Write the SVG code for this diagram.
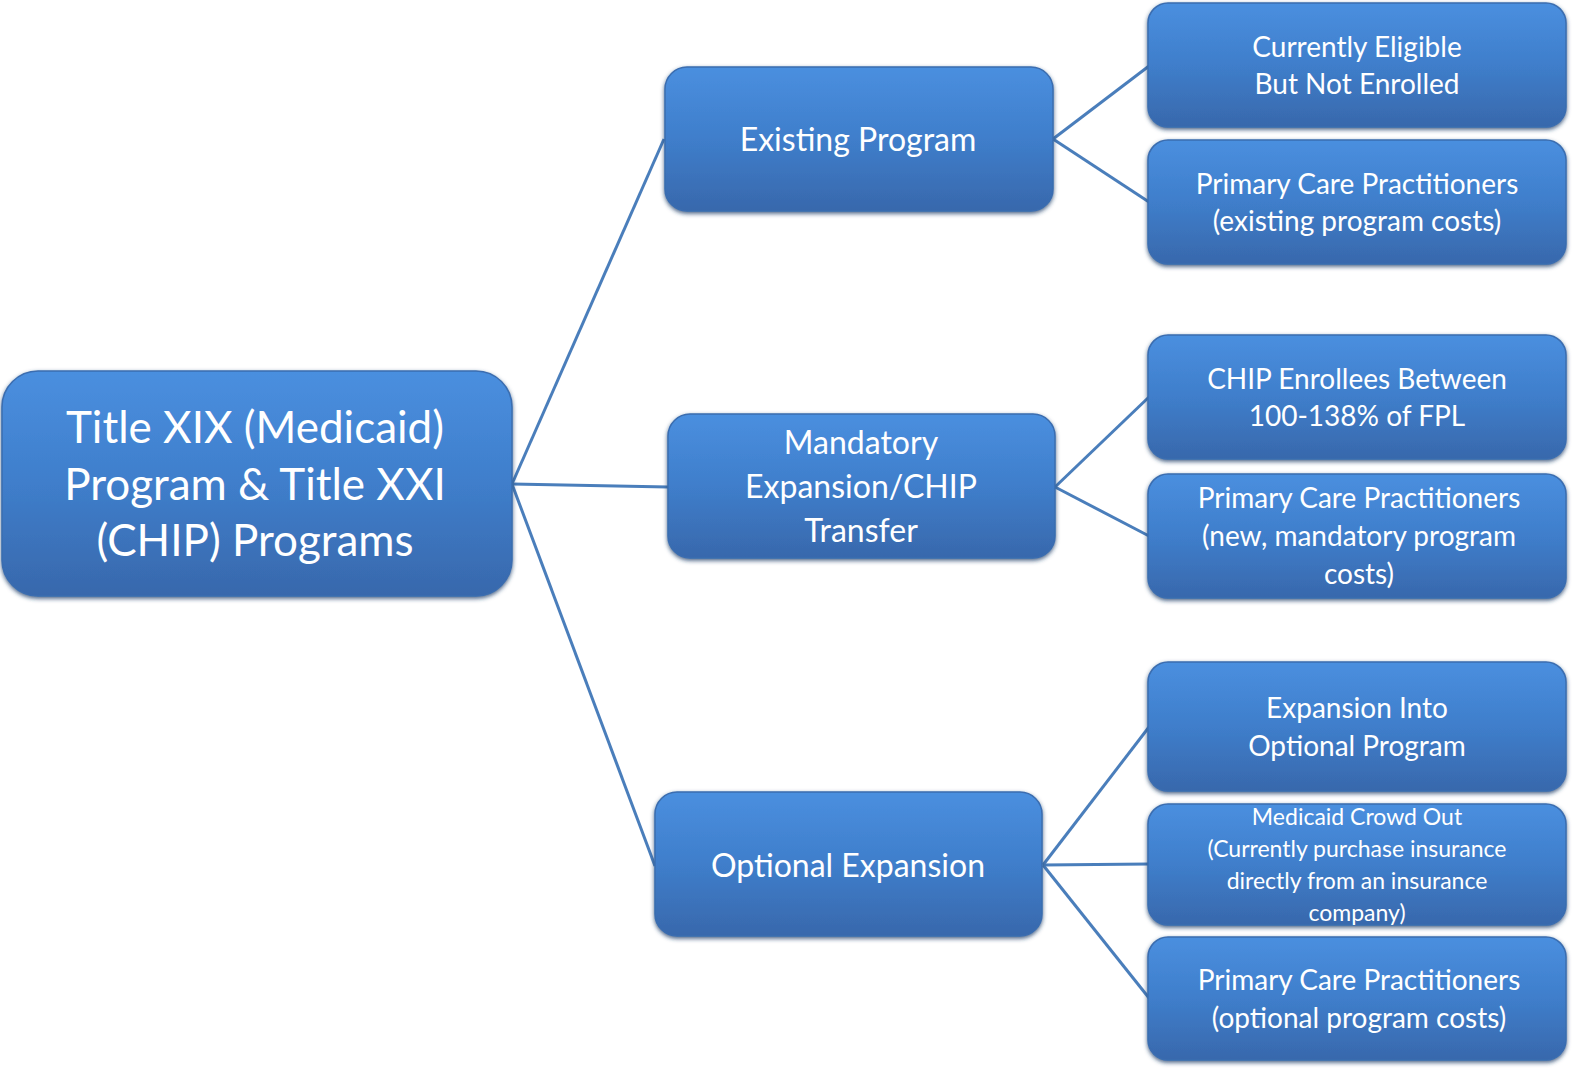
<svg xmlns="http://www.w3.org/2000/svg" width="1585" height="1075" viewBox="0 0 1585 1075">
<defs>
<linearGradient id="g" x1="0" y1="0" x2="0" y2="1">
<stop offset="0" stop-color="#4a8fdf"/>
<stop offset="0.5" stop-color="#3f7ecb"/>
<stop offset="1" stop-color="#3868ac"/>
</linearGradient>
<filter id="sh" x="-5%" y="-5%" width="110%" height="115%">
<feGaussianBlur in="SourceAlpha" stdDeviation="2"/>
<feOffset dx="0" dy="2" result="b"/>
<feFlood flood-color="#1f3f6a" flood-opacity="0.8"/>
<feComposite in2="b" operator="in"/>
<feMerge><feMergeNode/><feMergeNode in="SourceGraphic"/></feMerge>
</filter>
</defs>
<style>
.box{fill:url(#g);stroke:#3a6db0;stroke-width:1.5;filter:url(#sh)}
.t{font-family:Lato,"Open Sans","Liberation Sans",sans-serif;fill:#ffffff;text-anchor:middle}
.conn line{stroke:#4a7ebb;stroke-width:3}
</style>
<rect width="1585" height="1075" fill="#ffffff"/>
<g class="conn" id="connectors">
<line x1="512" y1="484" x2="664" y2="139"/>
<line x1="512" y1="484" x2="668" y2="487"/>
<line x1="512" y1="484" x2="655" y2="866"/>
<line x1="1053" y1="139" x2="1149" y2="66"/>
<line x1="1053" y1="139" x2="1149" y2="202"/>
<line x1="1055" y1="487" x2="1149" y2="397"/>
<line x1="1055" y1="487" x2="1149" y2="536"/>
<line x1="1043" y1="865" x2="1149" y2="727"/>
<line x1="1043" y1="865" x2="1149" y2="864"/>
<line x1="1043" y1="865" x2="1149" y2="998"/>
</g>
<g id="root">
<rect class="box" x="2" y="371" width="510" height="225" rx="36"/>
<text class="t" font-size="44" x="255" y="443">Title XIX (Medicaid)</text>
<text class="t" font-size="44" x="255" y="500">Program &amp; Title XXI</text>
<text class="t" font-size="44" x="255" y="556">(CHIP) Programs</text>
</g>
<g id="existing">
<rect class="box" x="665" y="67" width="388" height="144" rx="22"/>
<text class="t" font-size="32" x="858" y="151">Existing Program</text>
</g>
<g id="mandatory">
<rect class="box" x="668" y="414" width="387" height="144" rx="22"/>
<text class="t" font-size="32" x="861" y="454">Mandatory</text>
<text class="t" font-size="32" x="861" y="498">Expansion/CHIP</text>
<text class="t" font-size="32" x="861" y="542">Transfer</text>
</g>
<g id="optional">
<rect class="box" x="655" y="792" width="387" height="144" rx="22"/>
<text class="t" font-size="32" x="848" y="877">Optional Expansion</text>
</g>
<g id="eligible">
<rect class="box" x="1148" y="3" width="418" height="124" rx="20"/>
<text class="t" font-size="28" x="1357" y="57">Currently Eligible</text>
<text class="t" font-size="28" x="1357" y="94">But Not Enrolled</text>
</g>
<g id="pcp-existing">
<rect class="box" x="1148" y="140" width="418" height="124" rx="20"/>
<text class="t" font-size="28" x="1357" y="194">Primary Care Practitioners</text>
<text class="t" font-size="28" x="1357" y="231">(existing program costs)</text>
</g>
<g id="chip-enrollees">
<rect class="box" x="1148" y="335" width="418" height="124" rx="20"/>
<text class="t" font-size="28" x="1357" y="389">CHIP Enrollees Between</text>
<text class="t" font-size="28" x="1357" y="426">100-138% of FPL</text>
</g>
<g id="pcp-new">
<rect class="box" x="1148" y="474" width="418" height="124" rx="20"/>
<text class="t" font-size="28" x="1359" y="508">Primary Care Practitioners</text>
<text class="t" font-size="28" x="1359" y="546">(new, mandatory program</text>
<text class="t" font-size="28" x="1359" y="584">costs)</text>
</g>
<g id="expansion-into">
<rect class="box" x="1148" y="662" width="418" height="129" rx="20"/>
<text class="t" font-size="28" x="1357" y="718">Expansion Into</text>
<text class="t" font-size="28" x="1357" y="756">Optional Program</text>
</g>
<g id="crowd-out">
<rect class="box" x="1148" y="804" width="418" height="121" rx="20"/>
<text class="t" font-size="23" x="1357" y="825">Medicaid Crowd Out</text>
<text class="t" font-size="23" x="1357" y="857">(Currently purchase insurance</text>
<text class="t" font-size="23" x="1357" y="889">directly from an insurance</text>
<text class="t" font-size="23" x="1357" y="921">company)</text>
</g>
<g id="pcp-optional">
<rect class="box" x="1148" y="937" width="418" height="123" rx="20"/>
<text class="t" font-size="28" x="1359" y="990">Primary Care Practitioners</text>
<text class="t" font-size="28" x="1359" y="1028">(optional program costs)</text>
</g>
</svg>
